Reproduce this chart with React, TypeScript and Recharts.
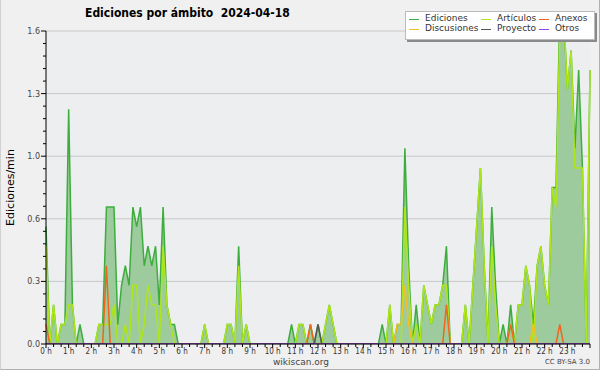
import React from 'react';
import { ComposedChart, Area, Line, XAxis, YAxis, CartesianGrid } from 'recharts';

// edits per minute in 10-minute slots, one row per hour (last row is 24:00)
const ediciones = [
  [0.6, 0, 0.2, 0, 0.1, 0.1],
  [1.2, 0.2, 0, 0.1, 0, 0],
  [0, 0, 0.1, 0.1, 0.7, 0.7],
  [0.7, 0.1, 0.3, 0.4, 0.3, 0.7],
  [0.6, 0.7, 0.4, 0.5, 0.4, 0.5],
  [0.2, 0.7, 0.2, 0.1, 0.1, 0],
  [0, 0, 0, 0, 0, 0],
  [0.1, 0, 0, 0, 0, 0],
  [0.1, 0.1, 0, 0.5, 0, 0.1],
  [0, 0, 0, 0, 0, 0],
  [0, 0, 0, 0, 0, 0.1],
  [0, 0.1, 0.1, 0, 0.1, 0],
  [0.1, 0, 0.1, 0.2, 0.1, 0],
  [0, 0, 0, 0, 0, 0],
  [0, 0, 0, 0, 0, 0.1],
  [0, 0.2, 0, 0.1, 0.1, 1.0],
  [0.4, 0, 0.2, 0, 0.3, 0.2],
  [0.1, 0.2, 0.2, 0.3, 0.5, 0],
  [0, 0, 0, 0.2, 0, 0.3],
  [0.6, 0.9, 0.4, 0, 0.7, 0.3],
  [0, 0.1, 0, 0.2, 0, 0.2],
  [0.2, 0.4, 0.3, 0.1, 0.4, 0.5],
  [0.3, 0.2, 0.8, 0.8, 1.7, 1.7],
  [1.3, 1.5, 1.0, 1.4, 0.9, 0],
  [1.4],
].flat();

const articulos = [
  [0.5, 0, 0.2, 0, 0.1, 0.1],
  [0.2, 0.2, 0, 0, 0, 0],
  [0, 0, 0.1, 0.1, 0.1, 0.1],
  [0.2, 0, 0, 0.1, 0, 0.3],
  [0.3, 0, 0.1, 0.3, 0.2, 0.2],
  [0, 0.5, 0.2, 0.1, 0, 0],
  [0, 0, 0, 0, 0, 0],
  [0.1, 0, 0, 0, 0, 0],
  [0.1, 0.1, 0, 0.4, 0, 0.1],
  [0, 0, 0, 0, 0, 0],
  [0, 0, 0, 0, 0, 0],
  [0, 0.1, 0.1, 0, 0, 0],
  [0, 0, 0.1, 0.2, 0.1, 0],
  [0, 0, 0, 0, 0, 0],
  [0, 0, 0, 0, 0, 0],
  [0, 0.2, 0, 0, 0, 0.7],
  [0.3, 0, 0.1, 0, 0.3, 0.2],
  [0.1, 0.2, 0.2, 0.3, 0.3, 0],
  [0, 0, 0, 0.2, 0, 0.3],
  [0.6, 0.9, 0.4, 0, 0.5, 0.2],
  [0, 0, 0, 0.1, 0, 0.2],
  [0.2, 0.4, 0.3, 0, 0.4, 0.5],
  [0.3, 0.2, 0.8, 0.7, 1.6, 1.7],
  [1.3, 1.5, 0.9, 0.9, 0.9, 0],
  [1.4],
].flat();

const anexos = [
  [0.1, 0, 0, 0, 0, 0],
  [0, 0, 0, 0, 0, 0],
  [0, 0, 0, 0, 0.4, 0],
  [0, 0, 0, 0, 0, 0],
  [0, 0, 0, 0, 0, 0],
  [0, 0, 0, 0, 0, 0],
  [0, 0, 0, 0, 0, 0],
  [0, 0, 0, 0, 0, 0],
  [0, 0, 0, 0, 0, 0],
  [0, 0, 0, 0, 0, 0],
  [0, 0, 0, 0, 0, 0],
  [0, 0, 0, 0, 0.1, 0],
  [0, 0, 0, 0, 0, 0],
  [0, 0, 0, 0, 0, 0],
  [0, 0, 0, 0, 0, 0],
  [0, 0, 0, 0, 0, 0],
  [0, 0, 0, 0, 0, 0],
  [0, 0, 0, 0, 0.2, 0],
  [0, 0, 0, 0, 0, 0],
  [0, 0, 0, 0, 0, 0],
  [0, 0, 0, 0.1, 0, 0],
  [0, 0, 0, 0, 0, 0],
  [0, 0, 0, 0, 0.1, 0],
  [0, 0, 0, 0, 0, 0],
  [0],
].flat();

const discusiones = [
  [0, 0, 0, 0, 0, 0],
  [0, 0, 0, 0, 0, 0],
  [0, 0, 0, 0, 0, 0],
  [0, 0, 0, 0, 0, 0],
  [0, 0, 0, 0, 0, 0],
  [0, 0, 0, 0, 0, 0],
  [0, 0, 0, 0, 0, 0],
  [0, 0, 0, 0, 0, 0],
  [0, 0, 0, 0, 0, 0],
  [0, 0, 0, 0, 0, 0],
  [0, 0, 0, 0, 0, 0],
  [0, 0, 0, 0, 0, 0],
  [0, 0, 0, 0, 0, 0],
  [0, 0, 0, 0, 0, 0],
  [0, 0, 0, 0, 0, 0],
  [0, 0, 0, 0.1, 0.1, 0.3],
  [0.1, 0, 0, 0, 0, 0],
  [0, 0, 0, 0, 0, 0],
  [0, 0, 0, 0, 0, 0],
  [0, 0, 0, 0, 0, 0],
  [0, 0, 0, 0, 0, 0],
  [0, 0, 0, 0.1, 0, 0],
  [0, 0, 0, 0, 0, 0],
  [0, 0, 0, 0, 0, 0],
  [0],
].flat();

const proyecto = [
  [0, 0, 0, 0, 0, 0],
  [0, 0, 0, 0, 0, 0],
  [0, 0, 0, 0, 0, 0],
  [0, 0, 0, 0, 0, 0],
  [0, 0, 0, 0, 0, 0],
  [0, 0, 0, 0, 0, 0],
  [0, 0, 0, 0, 0, 0],
  [0, 0, 0, 0, 0, 0],
  [0, 0, 0, 0, 0, 0],
  [0, 0, 0, 0, 0, 0],
  [0, 0, 0, 0, 0, 0],
  [0, 0, 0, 0, 0, 0],
  [0.1, 0, 0, 0, 0, 0],
  [0, 0, 0, 0, 0, 0],
  [0, 0, 0, 0, 0, 0],
  [0, 0, 0, 0, 0, 0],
  [0, 0, 0, 0, 0, 0],
  [0, 0, 0, 0, 0, 0],
  [0, 0, 0, 0, 0, 0],
  [0, 0, 0, 0, 0, 0],
  [0, 0, 0, 0, 0, 0],
  [0, 0, 0, 0, 0, 0],
  [0, 0, 0, 0, 0, 0],
  [0, 0, 0, 0, 0, 0],
  [0],
].flat();

const otros = [
  [0, 0, 0, 0, 0, 0],
  [0, 0, 0, 0, 0, 0],
  [0, 0, 0, 0, 0, 0],
  [0, 0, 0, 0, 0, 0],
  [0, 0, 0, 0, 0, 0],
  [0, 0, 0, 0, 0, 0],
  [0, 0, 0, 0, 0, 0],
  [0, 0, 0, 0, 0, 0],
  [0, 0, 0, 0, 0, 0],
  [0, 0, 0, 0, 0, 0],
  [0, 0, 0, 0, 0, 0],
  [0, 0, 0, 0, 0, 0],
  [0, 0, 0, 0, 0, 0],
  [0, 0, 0, 0, 0, 0],
  [0, 0, 0, 0, 0, 0],
  [0, 0, 0, 0, 0, 0],
  [0, 0, 0, 0, 0, 0],
  [0, 0, 0, 0, 0, 0],
  [0, 0, 0, 0, 0, 0],
  [0, 0, 0, 0, 0, 0],
  [0, 0, 0, 0, 0, 0],
  [0, 0, 0, 0, 0, 0],
  [0, 0, 0, 0, 0, 0],
  [0, 0, 0, 0, 0, 0],
  [0],
].flat();

const hourLabels = [
  '0 h', '1 h', '2 h', '3 h', '4 h', '5 h', '6 h', '7 h', '8 h', '9 h', '10 h', '11 h',
  '12 h', '13 h', '14 h', '15 h', '16 h', '17 h', '18 h', '19 h', '20 h', '21 h', '22 h', '23 h',
];
const yMajor = [0, 0.32, 0.64, 0.96, 1.28, 1.6];
const yLabels = ['0.0', '0.3', '0.6', '1.0', '1.3', '1.6'];

// 4 minor ticks between majors, x ticks every 20 minutes
const yTicks = Array.from({ length: 26 }, (_, k) => +(k * 0.064).toFixed(3));
const xTicks = Array.from({ length: 73 }, (_, k) => k * 20);

const data = ediciones.map((v, i) => ({
  min: i * 10,
  ediciones: v,
  articulos: articulos[i],
  anexos: anexos[i],
  discusiones: discusiones[i],
  proyecto: proyecto[i],
  otros: otros[i],
}));

const COLORS = {
  edFill: '#9dcb9d',
  edLine: '#3dae3d',
  articulos: '#aee619',
  anexos: '#f0661e',
  discusiones: '#f2c11e',
  proyecto: '#555555',
  otros: '#9b45e8',
};

const FONT = '"DejaVu Sans", sans-serif';

const XTick = (props: any) => {
  const { x, y, payload } = props;
  const v = payload.value;
  const major = v % 60 === 0;
  return (
    <g>
      <line x1={x} x2={x} y1={y} y2={y + (major ? 4 : 3)} stroke="#000" />
      {major && v < 1440 && (
        <text x={x} y={y + 10} textAnchor="middle" fontSize={8} fill="#333" style={{ fontStretch: 'condensed' }}>
          {hourLabels[v / 60]}
        </text>
      )}
    </g>
  );
};

const YTick = (props: any) => {
  const { x, y, payload } = props;
  const idx = yMajor.findIndex((m) => Math.abs(m - payload.value) < 1e-6);
  const major = idx >= 0;
  return (
    <g>
      <line x1={x - (major ? 5 : 3)} x2={x} y1={y} y2={y} stroke="#000" />
      {major && (
        <text x={x - 6} y={y + 3} textAnchor="end" fontSize={8} fill="#444">
          {yLabels[idx]}
        </text>
      )}
    </g>
  );
};

const legendItems = [
  { name: 'Ediciones', color: COLORS.edLine, left: 408, top: 19 },
  { name: 'Discusiones', color: COLORS.discusiones, left: 408, top: 29 },
  { name: 'Artículos', color: COLORS.articulos, left: 480, top: 19 },
  { name: 'Proyecto', color: COLORS.proyecto, left: 480, top: 29 },
  { name: 'Anexos', color: COLORS.anexos, left: 538, top: 19 },
  { name: 'Otros', color: COLORS.otros, left: 538, top: 29 },
];

export default function App() {
  return (
    <div
      style={{
        position: 'absolute',
        left: 0,
        top: 0,
        width: 600,
        height: 370,
        background: '#f0f0f0',
        fontFamily: FONT,
        boxSizing: 'border-box',
        borderRight: '1px solid #b0b0b0',
        borderBottom: '1px solid #b0b0b0',
        borderLeft: '1px solid #d0d0d0',
        overflow: 'hidden',
      }}
    >
      <div
        style={{
          position: 'absolute',
          left: 84,
          top: 7,
          fontSize: 12,
          lineHeight: '12px',
          fontWeight: 'bold',
          fontStretch: 'condensed',
          color: '#000',
          whiteSpace: 'pre',
        }}
      >
        {'Ediciones por ámbito  2024-04-18'}
      </div>
      <div style={{ position: 'absolute', left: -1, top: 0 }}>
        <ComposedChart
          width={600}
          height={370}
          data={data}
          margin={{ top: 31, right: 10, bottom: 0, left: 6 }}
          style={{ fontFamily: FONT }}
        >
          <CartesianGrid
            vertical={false}
            horizontalValues={yMajor}
            stroke="#c8c8c8"
            fill="#eceef0"
          />
          <Area
            type="linear"
            dataKey="ediciones"
            stroke={COLORS.edLine}
            strokeWidth={1.5}
            fill={COLORS.edFill}
            fillOpacity={1}
            isAnimationActive={false}
            dot={false}
            activeDot={false}
          />
          <Line type="linear" dataKey="articulos" stroke={COLORS.articulos} strokeWidth={1.5} dot={false} activeDot={false} isAnimationActive={false} />
          <Line type="linear" dataKey="anexos" stroke={COLORS.anexos} strokeWidth={1.5} dot={false} activeDot={false} isAnimationActive={false} />
          <Line type="linear" dataKey="discusiones" stroke={COLORS.discusiones} strokeWidth={1.5} dot={false} activeDot={false} isAnimationActive={false} />
          <Line type="linear" dataKey="proyecto" stroke={COLORS.proyecto} strokeWidth={1.5} dot={false} activeDot={false} isAnimationActive={false} />
          <Line type="linear" dataKey="otros" stroke={COLORS.otros} strokeWidth={1.5} dot={false} activeDot={false} isAnimationActive={false} />
          <XAxis
            dataKey="min"
            type="number"
            domain={[0, 1440]}
            ticks={xTicks}
            interval={0}
            height={26}
            tickSize={0}
            tickMargin={0}
            tick={(p: any) => <XTick {...p} />}
            axisLine={{ stroke: '#000' }}
          />
          <YAxis
            type="number"
            domain={[0, 1.6]}
            allowDataOverflow
            ticks={yTicks}
            interval={0}
            width={40}
            tickSize={0}
            tickMargin={0}
            tick={(p: any) => <YTick {...p} />}
            axisLine={{ stroke: '#000' }}
            label={{
              value: 'Ediciones/min',
              angle: -90,
              position: 'insideLeft',
              offset: 4,
              style: { textAnchor: 'middle', fontSize: 11, fill: '#000', fontFamily: FONT },
            }}
          />
        </ComposedChart>
      </div>
      <div
        style={{
          position: 'absolute',
          left: 404,
          top: 11,
          width: 188,
          height: 27,
          background: '#fff',
          border: '1px solid #bbb',
          boxShadow: '2px 2px 0 #8a8a8a',
        }}
      />
      {legendItems.map((it) => (
        <React.Fragment key={it.name}>
          <div
            style={{
              position: 'absolute',
              left: it.left,
              top: it.top,
              width: 10,
              height: 1,
              background: it.color,
            }}
          />
          <div
            style={{
              position: 'absolute',
              left: it.left + 16,
              top: it.top - 6,
              fontSize: 9,
              lineHeight: '11px',
              color: '#333',
              whiteSpace: 'nowrap',
            }}
          >
            {it.name}
          </div>
        </React.Fragment>
      ))}
      <div
        style={{
          position: 'absolute',
          left: 0,
          width: 600,
          top: 358,
          textAlign: 'center',
          fontSize: 9,
          lineHeight: '9px',
          color: '#444',
        }}
      >
        wikiscan.org
      </div>
      <div
        style={{
          position: 'absolute',
          right: 9,
          top: 358,
          fontSize: 7,
          lineHeight: '8px',
          color: '#444',
        }}
      >
        CC BY-SA 3.0
      </div>
    </div>
  );
}
